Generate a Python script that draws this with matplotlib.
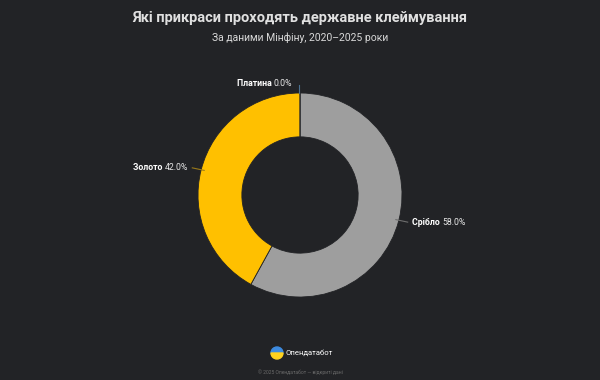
import numpy as np
import matplotlib
matplotlib.use("Agg")
import matplotlib.pyplot as plt
from matplotlib.patches import Wedge

# ---------- data ----------
labels = ["Срібло", "Золото", "Платина"]
shares = [58.0, 42.0, 0.0]
colors = ["#9e9e9e", "#ffc000", "#4a90c8"]
line_colors = ["#6e6e6e", "#9a7a1a", "#4a7090"]

title = "Які прикраси проходять державне клеймування"
subtitle = "За даними Мінфіну, 2020–2025 роки"
brand = "Опендатабот"
footer = "© 2025 Опендатабот — відкриті дані"

BG = "#222326"
plt.rcParams["font.family"] = ["Roboto", "DejaVu Sans"]

fig = plt.figure(figsize=(6, 3.8), dpi=100, facecolor=BG)
ax = fig.add_axes([0, 0, 1, 1])
ax.set_facecolor(BG)
R = 102.0  # outer radius in px

# donut, clockwise from 12 o'clock
ax.pie(shares, colors=colors, startangle=90, counterclock=False,
       radius=1.0, wedgeprops=dict(width=0.43, edgecolor=BG, linewidth=0.6),
       normalize=True)
ax.set_xlim(-300 / R, 300 / R)
ax.set_ylim(-185 / R, 195 / R)
ax.set_aspect("auto")
ax.axis("off")

# labels with short connectors
FS = 6.3
total = sum(shares)
start = 90.0
for name, v, lc in zip(labels, shares, line_colors):
    span = 360.0 * v / total
    mid = np.deg2rad(start - span / 2)
    start -= span
    x0, y0 = np.cos(mid), np.sin(mid)
    if v == 0:
        ax.plot([-0.01, -0.01], [1.0, 1.08], color=lc, lw=0.8)
        tx, ty = -0.075, 1.09
    else:
        ax.plot([x0 * 0.97, x0 * 1.09], [y0 * 0.97, y0 * 1.07], color=lc, lw=0.8)
        tx, ty = x0 * 1.135, y0 * 1.07
    pct = f"{v:.1f}%"
    if tx > 0:
        t = ax.text(tx, ty, name + " ", ha="left", va="center", color="white",
                    fontsize=FS, fontweight="bold")
        ax.annotate(pct, xycoords=t, xy=(1, 0.5), va="center", ha="left",
                    color="#e6e6e6", fontsize=FS)
    else:
        t = ax.text(tx, ty, pct, ha="right", va="center", color="#e6e6e6",
                    fontsize=FS)
        ax.annotate(name + " ", xycoords=t, xy=(0, 0.5), va="center", ha="right",
                    color="white", fontsize=FS, fontweight="bold")

# titles
fig.text(0.5, 1 - 18 / 380, title, ha="center", va="center", color="#e0e0e0",
         fontsize=10.5, fontweight="bold")
fig.text(0.5, 1 - 38 / 380, subtitle, ha="center", va="center", color="#d8d8d8",
         fontsize=7.5)

# brand footer
cx, cy = 277, 380 - 353
fig.patches.append(Wedge((cx, cy), 6, 0, 180, color="#3d8be0",
                         transform=None, figure=fig))
fig.patches.append(Wedge((cx, cy), 6, 180, 360, color="#ffd21f",
                         transform=None, figure=fig))
fig.text(285 / 600, 1 - 353 / 380, brand, ha="left", va="center", color="white",
         fontsize=5.5)
fig.text(0.5, 1 - 372 / 380, footer, ha="center", va="center", color="#6a6a6a",
         fontsize=3.6)

fig.savefig("out.png", dpi=100, facecolor=BG)
